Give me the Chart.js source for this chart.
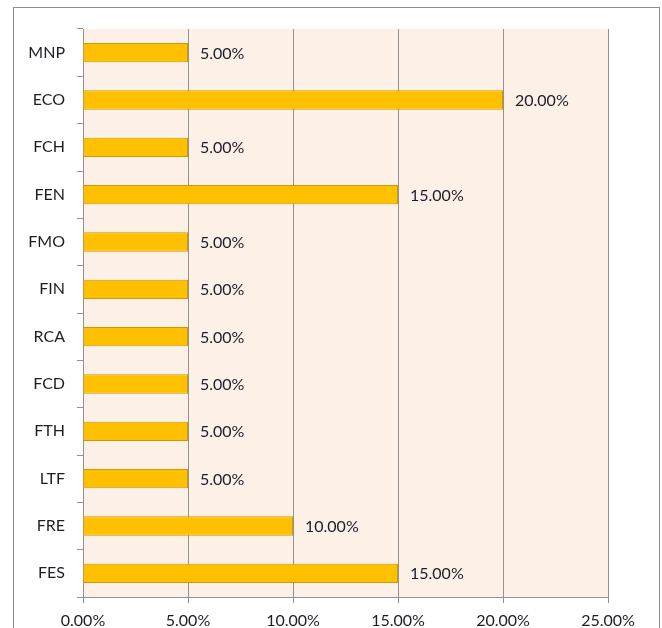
<!DOCTYPE html>
<html>
<head>
<meta charset="utf-8">
<script src="https://cdn.jsdelivr.net/npm/chart.js@4"></script>
<style>
  html, body { margin: 0; padding: 0; background: #fff; }
  #wrap { position: absolute; left: 0; top: 0; width: 662px; height: 628px; }
</style>
</head>
<body>
<div id="wrap"><canvas id="chart" width="662" height="628"></canvas></div>
<script>
const categories = ['MNP', 'ECO', 'FCH', 'FEN', 'FMO', 'FIN', 'RCA', 'FCD', 'FTH', 'LTF', 'FRE', 'FES'];
const shares = [5, 20, 5, 15, 5, 5, 5, 5, 5, 5, 10, 15];
const xTicks = [0, 5, 10, 15, 20, 25];

const fmt = (v) => v.toFixed(2) + '%';
const textColor = '#1c1c2a';

// peach plot area + outer frame
const backdrop = {
  id: 'backdrop',
  beforeDraw(chart) {
    const { ctx, chartArea } = chart;
    ctx.save();
    ctx.fillStyle = '#fdf1e7';
    ctx.fillRect(chartArea.left, chartArea.top, chartArea.right - chartArea.left, chartArea.bottom - chartArea.top);
    ctx.strokeStyle = '#8c8c8c';
    ctx.lineWidth = 1;
    ctx.strokeRect(13.5, 7.5, 646, 660);
    ctx.restore();
  },
};

// value labels right of each bar
const barLabels = {
  id: 'barLabels',
  afterDatasetsDraw(chart) {
    const { ctx } = chart;
    const meta = chart.getDatasetMeta(0);
    ctx.save();
    ctx.font = '16px Lato';
    ctx.fillStyle = textColor;
    ctx.textAlign = 'left';
    ctx.textBaseline = 'middle';
    meta.data.forEach((bar, i) => {
      ctx.fillText(fmt(shares[i]), bar.x + 12, bar.y + 1);
    });
    ctx.restore();
  },
};

new Chart(document.getElementById('chart'), {
  type: 'bar',
  data: {
    labels: categories,
    datasets: [
      {
        data: shares,
        backgroundColor: '#ffc000',
        borderColor: '#cc9a06',
        borderWidth: 1,
        barPercentage: 0.41,
        categoryPercentage: 1,
      },
    ],
  },
  options: {
    indexAxis: 'y',
    responsive: false,
    animation: false,
    layout: { padding: { left: 0, right: 54, top: 29, bottom: 0 } },
    plugins: {
      legend: { display: false },
      tooltip: { enabled: false },
    },
    scales: {
      x: {
        min: 0,
        max: 25,
        afterBuildTicks: (s) => { s.ticks = xTicks.map((v) => ({ value: v })); },
        afterFit: (s) => { s.height = 31; },
        ticks: {
          callback: (v) => fmt(v),
          font: { family: 'Lato', size: 16 },
          color: textColor,
          padding: 8,
          maxRotation: 0,
        },
        grid: { color: '#929292', lineWidth: 1, tickLength: 6 },
        border: { color: '#929292' },
      },
      y: {
        afterFit: (s) => { s.width = 83; },
        ticks: {
          font: { family: 'Lato', size: 16 },
          color: textColor,
          padding: 12,
        },
        grid: { drawOnChartArea: false, offset: true, color: '#929292', tickLength: 6 },
        border: { color: '#929292' },
      },
    },
  },
  plugins: [backdrop, barLabels],
});
</script>
</body>
</html>
